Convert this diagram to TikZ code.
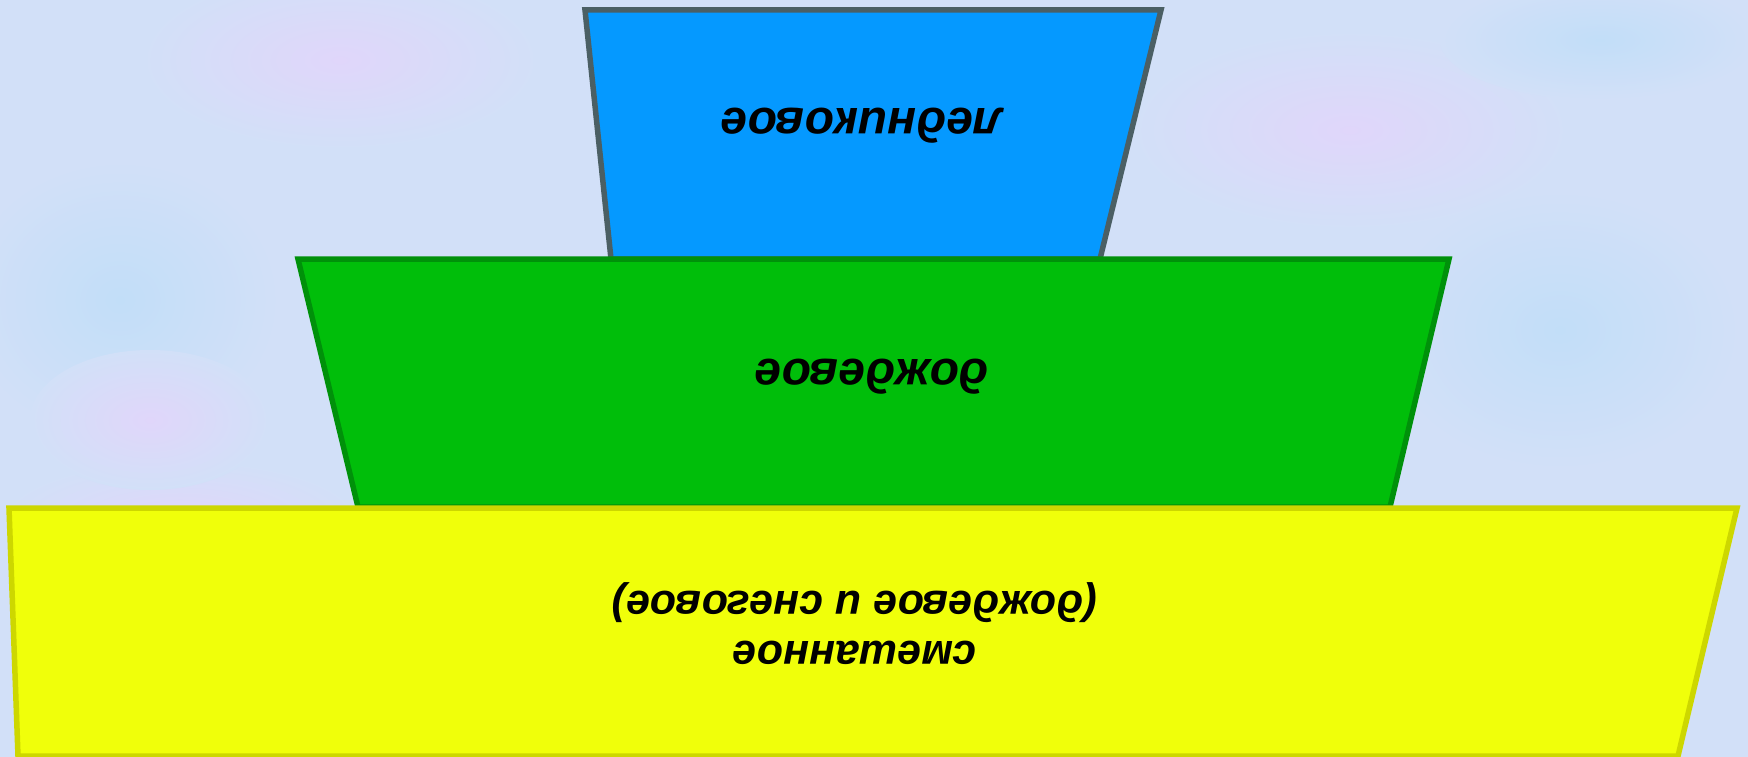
\documentclass[tikz,border=0pt]{standalone}
\usepackage{fontspec}
\setmainfont{Liberation Sans}
\definecolor{bgc}{RGB}{210,224,248}
\definecolor{bgl}{RGB}{224,214,250}
\definecolor{bgb}{RGB}{194,222,248}
\definecolor{blufill}{RGB}{5,153,255}
\definecolor{bludraw}{RGB}{75,95,100}
\definecolor{grnfill}{RGB}{0,190,10}
\definecolor{grndraw}{RGB}{0,145,10}
\definecolor{yelfill}{RGB}{240,255,10}
\definecolor{yeldraw}{RGB}{205,215,0}
\tikzset{
  tier/.style={line width=5.5pt, line join=miter},
  lbl/.style={rotate=180, font=\fontsize{48}{56}\selectfont\bfseries\itshape, text=black, align=center, inner sep=0pt},
  lblsmall/.style={lbl, font=\fontsize{43}{50}\selectfont\bfseries\itshape},
  blob/.style={inner color=#1, outer color=bgc, draw=none}
}
\begin{document}
\begin{tikzpicture}[x=1pt,y=-1pt]
\fill[bgc] (0,0) rectangle (1748,757);
\useasboundingbox (0,0) rectangle (1748,757);
% soft background blobs
\shade[blob=bgl] (340,60) ellipse (200 and 90);
\shade[blob=bgb] (120,300) ellipse (160 and 140);
\shade[blob=bgl] (1350,130) ellipse (220 and 100);
\shade[blob=bgb] (1560,330) ellipse (180 and 140);
\shade[blob=bgb] (1600,40) ellipse (160 and 60);
\shade[blob=bgl] (180,520) ellipse (180 and 60);
\shade[blob=bgl] (150,420) ellipse (120 and 70);
% tiers
\coordinate (b1) at (585,10);  \coordinate (b2) at (1161,10);
\coordinate (b3) at (1100,259); \coordinate (b4) at (611,259);
\coordinate (g1) at (298,259); \coordinate (g2) at (1449,259);
\coordinate (g3) at (1390,507); \coordinate (g4) at (358,507);
\coordinate (y1) at (9,508);   \coordinate (y2) at (1737,508);
\coordinate (y3) at (1678,756); \coordinate (y4) at (18,756);
\draw[tier, draw=bludraw, fill=blufill] (b1) -- (b2) -- (b3) -- (b4) -- cycle;
\draw[tier, draw=grndraw, fill=grnfill] (g1) -- (g2) -- (g3) -- (g4) -- cycle;
\draw[tier, draw=yeldraw, fill=yelfill] (y1) -- (y2) -- (y3) -- (y4) -- cycle;
% labels (upside down)
\node[lbl] (t1) at (862,126) {ледниковое};
\node[lbl] (t2) at (872,377) {дождевое};
\node[lblsmall] (t3) at (855,624) {смешанное\\(дождевое и снеговое)};
\end{tikzpicture}
\end{document}
